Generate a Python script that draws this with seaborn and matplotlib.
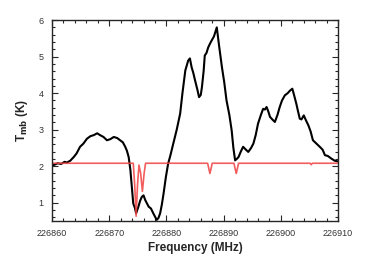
import numpy as np
import pandas as pd
import matplotlib
matplotlib.use("Agg")
import matplotlib.pyplot as plt
import seaborn as sns
from matplotlib.ticker import MultipleLocator

obs_freq = [226860.0, 226860.3, 226861.0, 226861.6, 226862.2, 226862.6, 226863.2, 226863.8,
            226864.3, 226864.9, 226865.5, 226866.1, 226866.7, 226867.3, 226867.9, 226868.4,
            226869.0, 226869.6, 226870.2, 226870.8, 226871.4, 226871.9, 226872.4, 226872.8,
            226873.1, 226873.4, 226873.7, 226873.95, 226874.2, 226874.5, 226874.7, 226875.1,
            226875.4, 226875.7, 226876.0, 226876.3, 226876.6, 226876.9, 226877.3, 226877.7,
            226878.0, 226878.3, 226878.6, 226878.9, 226879.2, 226879.5, 226879.9, 226880.3,
            226880.7, 226881.2, 226881.8, 226882.4, 226882.8, 226883.3, 226883.8, 226884.1,
            226884.4, 226884.7, 226885.0, 226885.4, 226885.7, 226886.0, 226886.2, 226886.5,
            226886.7, 226887.0, 226887.3, 226887.6, 226887.9, 226888.3, 226888.8, 226889.2,
            226889.7, 226890.1, 226890.5, 226891.0, 226891.4, 226891.7, 226892.0, 226892.3,
            226892.6, 226893.0, 226893.4, 226893.9, 226894.3, 226894.8, 226895.2, 226895.6,
            226896.0, 226896.5, 226896.9, 226897.2, 226897.5, 226897.8, 226898.1, 226898.5,
            226898.95, 226899.4, 226899.8, 226900.2, 226900.7, 226901.2, 226901.6, 226902.0,
            226902.3, 226902.7, 226903.0, 226903.3, 226903.6, 226904.0, 226904.4, 226904.8,
            226905.2, 226905.6, 226906.2, 226906.8, 226907.3, 226907.7, 226908.2, 226908.8,
            226909.4, 226910.0]
obs_temp = [2.05, 2.03, 2.08, 2.06, 2.12, 2.10, 2.15, 2.25,
            2.35, 2.53, 2.62, 2.75, 2.82, 2.85, 2.90, 2.85,
            2.80, 2.71, 2.74, 2.80, 2.77, 2.71, 2.65, 2.53,
            2.42, 2.25, 1.90, 1.44, 0.98, 0.85, 0.71, 0.89,
            1.05, 1.16, 1.20, 1.07, 0.98, 0.89, 0.84, 0.71,
            0.62, 0.53, 0.58, 0.71, 0.95, 1.25, 1.70, 2.07,
            2.30, 2.62, 3.00, 3.44, 4.00, 4.62, 4.89, 4.95,
            4.71, 4.55, 4.35, 4.10, 3.89, 3.95, 4.16, 4.60,
            5.03, 5.10, 5.25, 5.35, 5.44, 5.55, 5.80, 5.30,
            4.71, 4.30, 3.80, 3.40, 2.98, 2.50, 2.16, 2.20,
            2.25, 2.40, 2.53, 2.45, 2.39, 2.50, 2.62, 2.85,
            3.16, 3.40, 3.57, 3.55, 3.62, 3.50, 3.35, 3.28,
            3.21, 3.40, 3.62, 3.80, 3.94, 4.00, 4.07, 4.12,
            3.95, 3.71, 3.50, 3.30, 3.28, 3.39, 3.25, 3.12,
            2.95, 2.71, 2.62, 2.53, 2.45, 2.30, 2.28, 2.21,
            2.15, 2.13]

# model spectrum (red)
mod_freq = [226860.0, 226874.2, 226874.45, 226874.7, 226874.95, 226875.2, 226875.5, 226875.8,
            226876.1, 226876.35, 226887.2, 226887.45, 226887.6, 226887.75, 226888.0,
            226891.8, 226892.05, 226892.2, 226892.35, 226892.6, 226905.1, 226905.3,
            226905.5, 226910.0]
mod_temp = [2.08, 2.08, 1.5, 0.63, 1.5, 2.03, 1.8, 1.31,
            1.8, 2.08, 2.08, 1.9, 1.8, 1.9, 2.08,
            2.08, 1.9, 1.8, 1.9, 2.08, 2.08, 2.04,
            2.08, 2.08]

obs = pd.DataFrame({"freq": obs_freq, "temp": obs_temp})
mod = pd.DataFrame({"freq": mod_freq, "temp": mod_temp})

sns.set_theme(style="ticks")
plt.rcParams["font.family"] = ["Liberation Sans", "DejaVu Sans"]

fig = plt.figure(figsize=(3.74, 2.64), dpi=100)
ax = fig.add_axes([0.139, 0.163, 0.765, 0.761])

sns.lineplot(data=obs, x="freq", y="temp", ax=ax, color="black", lw=1.5,
             estimator=None, sort=False)
sns.lineplot(data=mod, x="freq", y="temp", ax=ax, color="#f04040", lw=1.2,
             alpha=0.85, estimator=None, sort=False)

ax.set_xlim(226860, 226910)
ax.set_ylim(0.5, 6)
ax.xaxis.set_major_locator(MultipleLocator(10))
ax.xaxis.set_minor_locator(MultipleLocator(2))
ax.yaxis.set_major_locator(MultipleLocator(1))
ax.yaxis.set_minor_locator(MultipleLocator(0.2))
ax.ticklabel_format(useOffset=False, style="plain", axis="x")
ax.tick_params(which="both", direction="in", top=True, right=True,
               labelsize=6.5, labelcolor="#333333", width=0.8, pad=6)
ax.tick_params(which="major", length=4)
ax.tick_params(which="minor", length=2)
ax.set_yticks([1, 2, 3, 4, 5, 6])
for s in ax.spines.values():
    s.set_linewidth(1.0)

ax.set_xlabel("Frequency (MHz)", fontsize=8.5, fontweight="bold", labelpad=3)
ax.set_ylabel(r"T$_{\mathbf{mb}}$ (K)", fontsize=8.5, fontweight="bold", labelpad=6)

fig.savefig("out.png", dpi=100)
